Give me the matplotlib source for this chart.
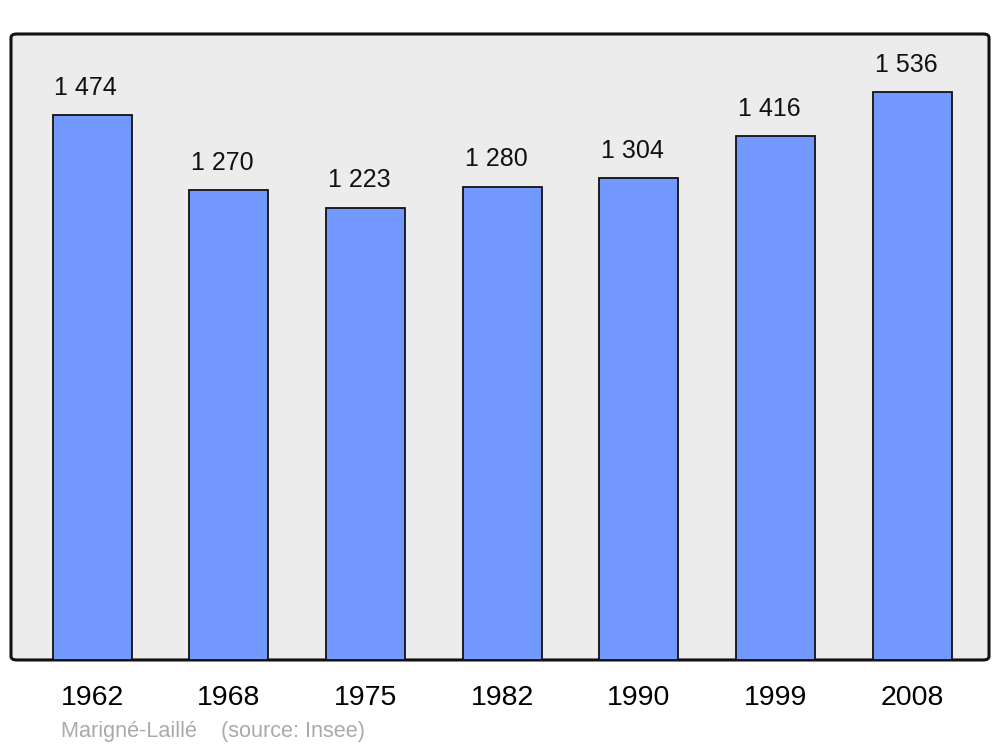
import matplotlib
matplotlib.use("Agg")
import matplotlib.pyplot as plt
from matplotlib.patches import FancyBboxPatch

plt.rcParams['font.family'] = ['Liberation Sans', 'DejaVu Sans']

years = ["1962", "1968", "1975", "1982", "1990", "1999", "2008"]
population = [1474, 1270, 1223, 1280, 1304, 1416, 1536]
value_labels = ["1 474", "1 270", "1 223", "1 280", "1 304", "1 416", "1 536"]

fig = plt.figure(figsize=(10, 7.47), dpi=100)
ax = fig.add_axes([0.011, 0.1165, 0.978, 0.838])
ax.set_facecolor("none")
for s in ax.spines.values():
    s.set_visible(False)

# rounded panel behind the bars
panel = FancyBboxPatch((0, 0), 1, 1, boxstyle="round,pad=0,rounding_size=0.006",
                       transform=ax.transAxes, facecolor="#ececec",
                       edgecolor="#111111", linewidth=2.2, zorder=0, clip_on=False)
ax.add_patch(panel)

x = range(len(years))
bars = ax.bar(x, population, width=0.578, color="#7399ff", edgecolor="#111111",
              linewidth=1.3, zorder=2)

for xi, val, lab in zip(x, population, value_labels):
    ax.annotate(lab, (xi, val), xytext=(-4.5, 11), textcoords="offset points",
                ha="center", va="bottom", fontsize=18, color="#111111")

ax.set_xlim(-0.593, 6.56)
ax.set_ylim(0, 1693)
ax.set_yticks([])
ax.set_xticks(list(x))
ax.set_xticklabels(years, fontsize=20.5)
ax.tick_params(axis="x", length=0, pad=18)

fig.text(0.061, 0.013, "Marigné-Laillé    (source: Insee)", fontsize=15.6,
         color="#aaaaaa", ha="left", va="baseline")

fig.savefig("out.png", dpi=100)
